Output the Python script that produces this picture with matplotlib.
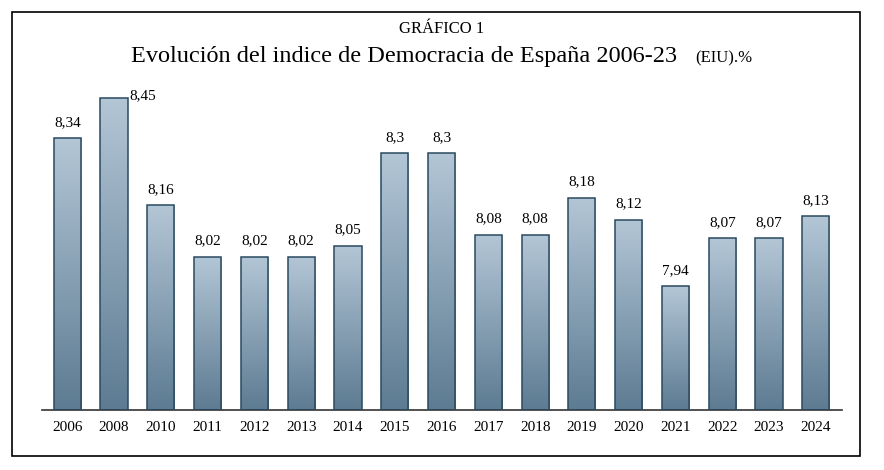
import numpy as np
import matplotlib.pyplot as plt
from matplotlib.colors import LinearSegmentedColormap

years = ["2006", "2008", "2010", "2011", "2012", "2013", "2014", "2015", "2016",
         "2017", "2018", "2019", "2020", "2021", "2022", "2023", "2024"]
values = [8.34, 8.45, 8.16, 8.02, 8.02, 8.02, 8.05, 8.30, 8.30,
          8.08, 8.08, 8.18, 8.12, 7.94, 8.07, 8.07, 8.13]
labels = ["8,34", "8,45", "8,16", "8,02", "8,02", "8,02", "8,05", "8,3", "8,3",
          "8,08", "8,08", "8,18", "8,12", "7,94", "8,07", "8,07", "8,13"]

plt.rcParams['font.family'] = ['Liberation Serif', 'DejaVu Serif']

fig = plt.figure(figsize=(8.84, 4.70), dpi=100)
fig.patches.append(plt.Rectangle((0.014, 0.030), 0.959, 0.945, transform=fig.transFigure,
                                 fill=False, edgecolor='black', linewidth=1.2))
ax = fig.add_axes([0.047, 0.128, 0.905, 0.696])

ymin = 7.607
x = np.arange(len(years))
bars = ax.bar(x, np.array(values) - ymin, bottom=ymin, width=0.58,
              facecolor='none', edgecolor='#2a4a60', linewidth=1.1, zorder=3)

cmap = LinearSegmentedColormap.from_list('g', ['#5d7b92', '#b3c6d6'])
grad = np.linspace(0, 1, 256).reshape(-1, 1)
for b in bars:
    x0, y0, w, h = b.get_x(), b.get_y(), b.get_width(), b.get_height()
    im = ax.imshow(grad, cmap=cmap, origin='lower', aspect='auto',
                   extent=(x0, x0 + w, y0, y0 + h), zorder=2)
    im.set_clip_path(b)

for i, (v, lab) in enumerate(zip(values, labels)):
    if i == 1:
        ax.text(i + 0.32, v + 0.005, lab, ha='left', va='center', fontsize=11)
    else:
        ax.text(i, v + 0.025, lab, ha='center', va='bottom', fontsize=11)

ax.set_xlim(-0.55, len(years) - 0.45)
ax.set_ylim(ymin, 8.49)
ax.set_xticks(x)
ax.set_xticklabels(years, fontsize=11)
ax.tick_params(axis='x', length=0, pad=8)
ax.set_yticks([])
for s in ['top', 'right', 'left']:
    ax.spines[s].set_visible(False)
ax.spines['bottom'].set_color('#333333')
ax.spines['bottom'].set_linewidth(1.2)

fig.text(0.5, 0.938, "GRÁFICO 1", ha='center', va='center', fontsize=12)
fig.text(0.148, 0.88, "Evolución del indice de Democracia de España 2006-23", ha='left',
         va='center', fontsize=17.5)
fig.text(0.786, 0.876, "(EIU).%", ha='left', va='center', fontsize=12)

fig.savefig("out.png", dpi=100)
